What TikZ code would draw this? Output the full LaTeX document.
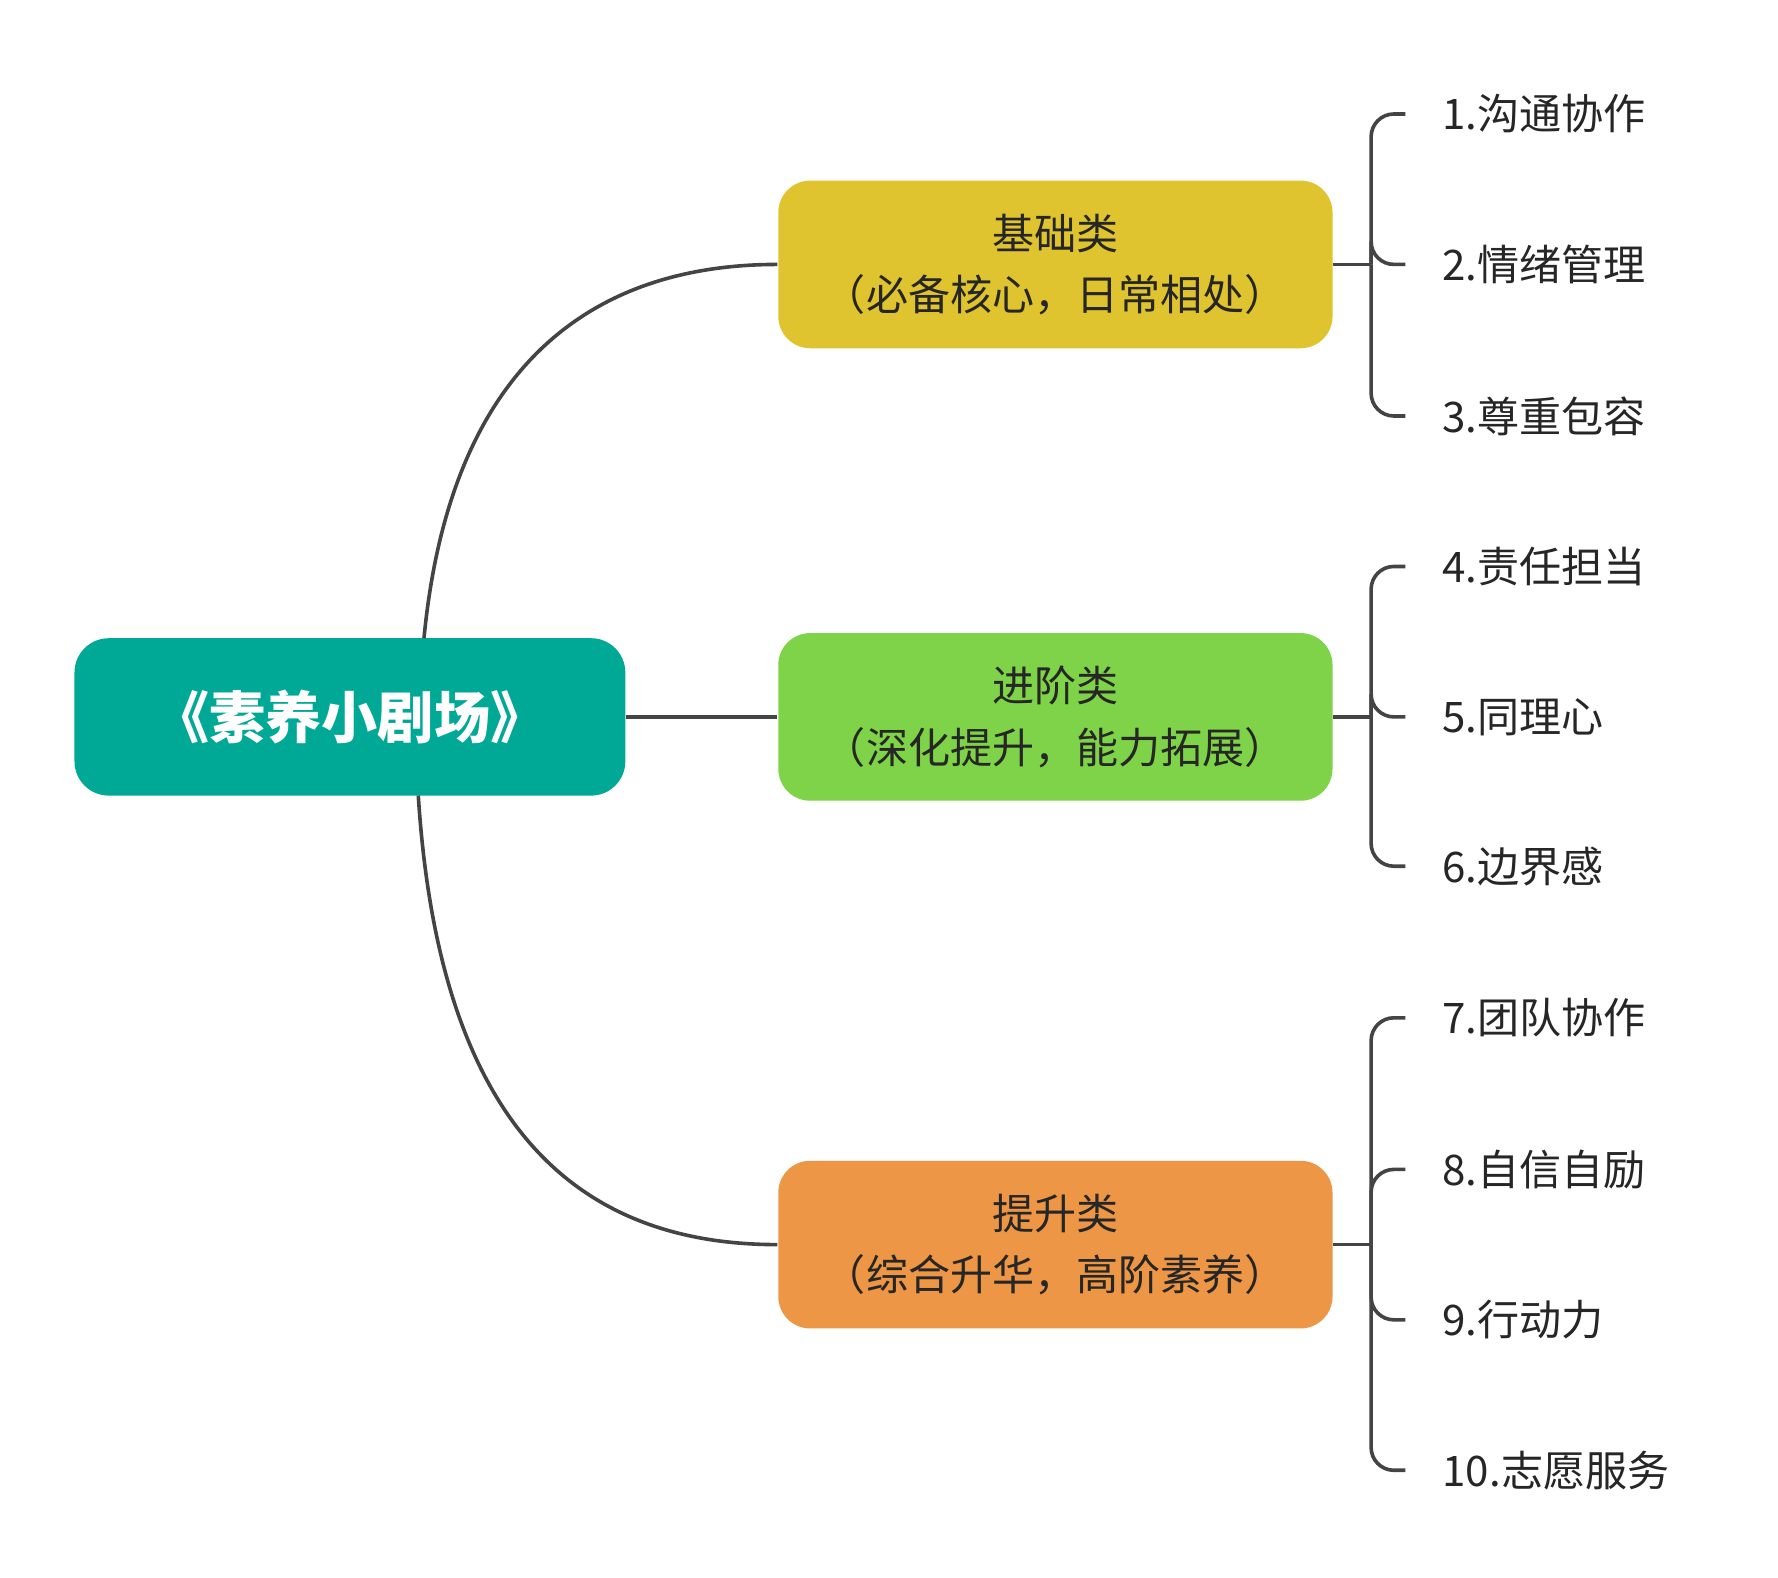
\documentclass[tikz,border=0pt]{standalone}
\usepackage{fontspec}
\setmainfont{Noto Sans CJK SC}
\usetikzlibrary{positioning,calc}
\definecolor{rootcol}{HTML}{00A896}
\definecolor{basecol}{HTML}{DFC430}
\definecolor{advcol}{HTML}{7ED348}
\definecolor{upcol}{HTML}{EC9646}
\definecolor{linecol}{HTML}{444444}
\tikzset{
  cat/.style={rounded corners=0.28cm, minimum width=4.86cm, minimum height=1.47cm,
    align=center, font=\fontsize{10.5pt}{15.3pt}\selectfont, text=black!85},
  item/.style={anchor=west, font=\fontsize{10.5pt}{12pt}\selectfont, text=black!85, inner sep=0pt},
  conn/.style={draw=linecol, line width=0.9pt},
}
\begin{document}
\begin{tikzpicture}[x=0.01cm, y=-0.01cm]
    \useasboundingbox (0,0) rectangle (1560,1384);

    % root and categories
    \node[fill=rootcol, rounded corners=0.3cm, minimum width=4.83cm, minimum height=1.38cm,
      text=white, font=\fontsize{14pt}{16pt}\selectfont\bfseries] (root) at (307,629) {《素养小剧场》};
    \node[cat, fill=basecol] (base) at (926,232) {基础类\\（必备核心，日常相处）};
    \node[cat, fill=advcol] (adv) at (926,629) {进阶类\\（深化提升，能力拓展）};
    \node[cat, fill=upcol] (up) at (926,1092) {提升类\\（综合升华，高阶素养）};

    % branches from root
    \draw[conn] (372,560) .. controls (395,320) and (520,232) .. (base.west);
    \draw[conn] (root.east) -- (adv.west);
    \draw[conn] (367,698) .. controls (385,980) and (500,1092) .. (up.west);

    % items
    \node[item] (i1) at (1265,100) {1.沟通协作};
    \node[item] (i2) at (1265,232) {2.情绪管理};
    \node[item] (i3) at (1265,365) {3.尊重包容};
    \node[item] (i4) at (1265,497) {4.责任担当};
    \node[item] (i5) at (1265,629) {5.同理心};
    \node[item] (i6) at (1265,760) {6.边界感};
    \node[item] (i7) at (1265,893) {7.团队协作};
    \node[item] (i8) at (1265,1026) {8.自信自励};
    \node[item] (i9) at (1265,1158) {9.行动力};
    \node[item] (i10) at (1265,1290) {10.志愿服务};

    % brackets
    \coordinate (b1) at (1203,232);
    \coordinate (b2) at (1203,629);
    \coordinate (b3) at (1203,1092);
    \draw[conn] (base.east) -- (b1);
    \draw[conn] (adv.east) -- (b2);
    \draw[conn] (up.east) -- (b3);
    \foreach \b/\i in {b1/i1,b1/i2,b1/i3,b2/i4,b2/i5,b2/i6,b3/i7,b3/i8,b3/i9,b3/i10}
        \draw[conn, rounded corners=0.2cm] (\b) |- ([xshift=-0.32cm]\i.west);
\end{tikzpicture}
\end{document}
